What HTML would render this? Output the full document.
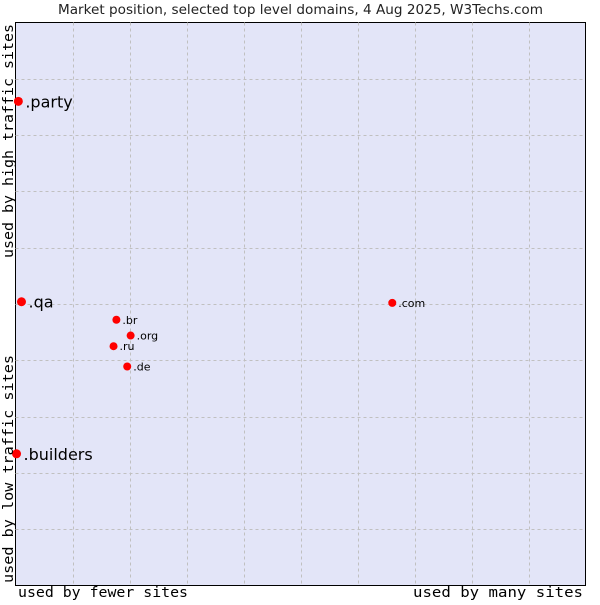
<!DOCTYPE html>
<html><head><meta charset="utf-8"><style>
body{margin:0;background:#fff;width:600px;height:600px;overflow:hidden}
</style></head><body>
<svg id="chart" width="600" height="600" xmlns="http://www.w3.org/2000/svg" font-family="DejaVu Sans, sans-serif">
<rect x="0" y="0" width="600" height="600" fill="#fff"/>
<text x="58" y="14" textLength="485" lengthAdjust="spacingAndGlyphs" font-size="13" fill="#222">Market position, selected top level domains, 4 Aug 2025, W3Techs.com</text>
<rect x="15.5" y="22.5" width="570" height="563" fill="#e3e5f8" stroke="#000" stroke-width="1"/>
<g id="grid"></g>
<g id="points"></g>
<text x="18" y="597" textLength="170" lengthAdjust="spacingAndGlyphs" font-family="DejaVu Sans Mono, monospace" font-size="14" fill="#000">used by fewer sites</text>
<text x="413" y="597" textLength="170" lengthAdjust="spacingAndGlyphs" font-family="DejaVu Sans Mono, monospace" font-size="14" fill="#000">used by many sites</text>
<text transform="translate(13,258) rotate(-90)" textLength="234" lengthAdjust="spacingAndGlyphs" font-family="DejaVu Sans Mono, monospace" font-size="14" fill="#000">used by high traffic sites</text>
<text transform="translate(13,583) rotate(-90)" textLength="228" lengthAdjust="spacingAndGlyphs" font-family="DejaVu Sans Mono, monospace" font-size="14" fill="#000">used by low traffic sites</text>
</svg>
<script>
const domains = [".party", ".qa", ".builders", ".com", ".br", ".org", ".ru", ".de"];
const siteShare = [0.5, 1.05, 0.18, 66.1, 17.7, 20.2, 17.2, 19.6];
const trafficRank = [86.0, 50.4, 23.4, 50.2, 47.2, 44.4, 42.5, 38.9];
const highlighted = [true, true, true, false, false, false, false, false];

const L=15.5,R=585.5,T=22.5,B=585.5;
const xs=v=>L+(v/100)*(R-L);
const ys=v=>B-(v/100)*(B-T);
const NS="http://www.w3.org/2000/svg";
const grid=document.getElementById('grid');
for(let i=1;i<10;i++){
  const gx=document.createElementNS(NS,'line');
  
  
  const x=Math.round(xs(i*10))+0.5;
  gx.setAttribute('x1',x);gx.setAttribute('x2',x);gx.setAttribute('y1',T);gx.setAttribute('y2',B);
  gx.setAttribute('stroke','#c0c0c0');gx.setAttribute('stroke-dasharray','3,3');
  grid.appendChild(gx);
  const gy=document.createElementNS(NS,'line');
  
  
  const y=Math.round(ys(i*10))+0.5;
  gy.setAttribute('y1',y);gy.setAttribute('y2',y);gy.setAttribute('x1',L);gy.setAttribute('x2',R);
  gy.setAttribute('stroke','#c0c0c0');gy.setAttribute('stroke-dasharray','3,3');
  grid.appendChild(gy);
}
const pts=document.getElementById('points');
domains.forEach((d,i)=>{
  const cx=xs(siteShare[i]), cy=ys(trafficRank[i]);
  const p=document.createElementNS(NS,'circle');
  
  
  p.setAttribute('cx',cx);p.setAttribute('cy',cy);p.setAttribute('r',highlighted[i]?4.5:4);
  p.setAttribute('fill','#ff0000');
  pts.appendChild(p);
  const t=document.createElementNS(NS,'text');
  
  
  t.setAttribute('x',cx+(highlighted[i]?7:6));
  t.setAttribute('y',cy+(highlighted[i]?6:4));
  t.setAttribute('font-size',highlighted[i]?16:11);
  t.setAttribute('fill','#000');
  t.textContent=d;
  pts.appendChild(t);
});
</script>
</body></html>
